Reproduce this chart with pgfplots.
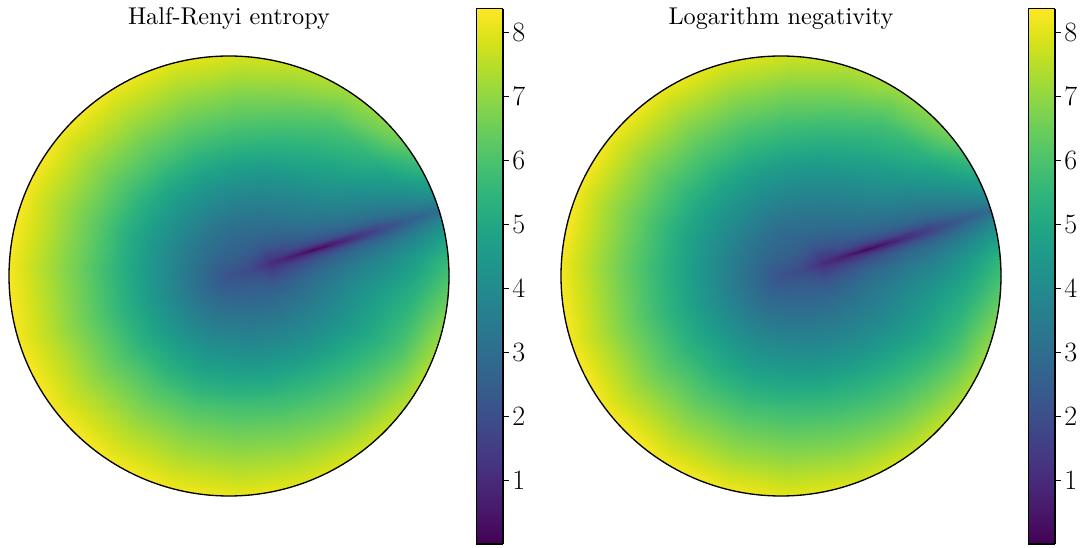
\documentclass[border=0pt]{standalone}
\usepackage{pgfplots}
\usepackage{pgfplotstable}
\pgfplotsset{compat=1.18}
% values: angle (deg), radius, value
\pgfplotstableread[row sep=\\]{
t r z\\
17.4 0 2.1\\ 17.4 .1 1.9\\ 17.4 .2 1.1\\ 17.4 .3 .6\\ 17.4 .4 .1\\ 17.4 .5 .6\\ 17.4 .6 1.2\\ 17.4 .7 1.7\\ 17.4 .85 2.5\\ 17.4 1.02 3.1\\
18.4 0 2.1\\ 18.4 .1 1.9\\ 18.4 .2 1.1\\ 18.4 .3 .8\\ 18.4 .4 .7\\ 18.4 .5 1.0\\ 18.4 .6 1.45\\ 18.4 .7 1.95\\ 18.4 .85 2.7\\ 18.4 1.02 3.35\\
20.4 0 2.1\\ 20.4 .1 1.9\\ 20.4 .2 1.2\\ 20.4 .3 1.25\\ 20.4 .4 1.5\\ 20.4 .5 1.9\\ 20.4 .6 2.3\\ 20.4 .7 2.6\\ 20.4 .85 3.2\\ 20.4 1.02 3.95\\
23.4 0 2.1\\ 23.4 .1 1.95\\ 23.4 .2 1.35\\ 23.4 .3 1.7\\ 23.4 .4 2.15\\ 23.4 .5 2.55\\ 23.4 .6 2.9\\ 23.4 .7 3.15\\ 23.4 .85 3.7\\ 23.4 1.02 4.6\\
29.4 0 2.1\\ 29.4 .1 2.05\\ 29.4 .2 1.7\\ 29.4 .3 2.2\\ 29.4 .4 2.75\\ 29.4 .5 3.15\\ 29.4 .6 3.55\\ 29.4 .7 3.85\\ 29.4 .85 4.5\\ 29.4 1.02 5.6\\
39.4 0 2.1\\ 39.4 .1 2.2\\ 39.4 .2 2.2\\ 39.4 .3 2.7\\ 39.4 .4 3.25\\ 39.4 .5 3.7\\ 39.4 .6 4.2\\ 39.4 .7 4.65\\ 39.4 .85 5.45\\ 39.4 1.02 6.8\\
57.4 0 2.1\\ 57.4 .1 2.4\\ 57.4 .2 2.7\\ 57.4 .3 3.15\\ 57.4 .4 3.65\\ 57.4 .5 4.2\\ 57.4 .6 4.85\\ 57.4 .7 5.4\\ 57.4 .85 6.2\\ 57.4 1.02 7.3\\
72 0 2.1\\ 72 .1 2.55\\ 72 .2 2.85\\ 72 .3 3.35\\ 72 .4 3.9\\ 72 .5 4.5\\ 72 .6 5.2\\ 72 .7 5.8\\ 72 .85 6.7\\ 72 1.02 7.7\\
87.4 0 2.1\\ 87.4 .1 2.65\\ 87.4 .2 2.95\\ 87.4 .3 3.5\\ 87.4 .4 4.1\\ 87.4 .5 4.75\\ 87.4 .6 5.5\\ 87.4 .7 6.1\\ 87.4 .85 6.95\\ 87.4 1.02 7.95\\
105 0 2.1\\ 105 .1 2.7\\ 105 .2 3.1\\ 105 .3 3.7\\ 105 .4 4.3\\ 105 .5 4.95\\ 105 .6 5.7\\ 105 .7 6.3\\ 105 .85 7.15\\ 105 1.02 8.1\\
122.4 0 2.1\\ 122.4 .1 2.75\\ 122.4 .2 3.25\\ 122.4 .3 3.85\\ 122.4 .4 4.45\\ 122.4 .5 5.1\\ 122.4 .6 5.85\\ 122.4 .7 6.45\\ 122.4 .85 7.3\\ 122.4 1.02 8.25\\
140 0 2.1\\ 140 .1 2.75\\ 140 .2 3.35\\ 140 .3 3.95\\ 140 .4 4.55\\ 140 .5 5.2\\ 140 .6 5.9\\ 140 .7 6.5\\ 140 .85 7.35\\ 140 1.02 8.3\\
157.4 0 2.1\\ 157.4 .1 2.75\\ 157.4 .2 3.4\\ 157.4 .3 4.0\\ 157.4 .4 4.6\\ 157.4 .5 5.25\\ 157.4 .6 5.95\\ 157.4 .7 6.55\\ 157.4 .85 7.4\\ 157.4 1.02 8.33\\
177 0 2.1\\ 177 .1 2.75\\ 177 .2 3.4\\ 177 .3 4.05\\ 177 .4 4.7\\ 177 .5 5.35\\ 177 .6 6.0\\ 177 .7 6.6\\ 177 .85 7.45\\ 177 1.02 8.35\\
197.4 0 2.1\\ 197.4 .1 2.75\\ 197.4 .2 3.4\\ 197.4 .3 4.05\\ 197.4 .4 4.7\\ 197.4 .5 5.35\\ 197.4 .6 6.0\\ 197.4 .7 6.6\\ 197.4 .85 7.45\\ 197.4 1.02 8.35\\
217 0 2.1\\ 217 .1 2.75\\ 217 .2 3.4\\ 217 .3 4.05\\ 217 .4 4.7\\ 217 .5 5.35\\ 217 .6 6.0\\ 217 .7 6.6\\ 217 .85 7.45\\ 217 1.02 8.35\\
237.4 0 2.1\\ 237.4 .1 2.75\\ 237.4 .2 3.4\\ 237.4 .3 4.0\\ 237.4 .4 4.65\\ 237.4 .5 5.3\\ 237.4 .6 6.0\\ 237.4 .7 6.6\\ 237.4 .85 7.45\\ 237.4 1.02 8.35\\
255 0 2.1\\ 255 .1 2.75\\ 255 .2 3.35\\ 255 .3 3.95\\ 255 .4 4.55\\ 255 .5 5.2\\ 255 .6 5.95\\ 255 .7 6.55\\ 255 .85 7.35\\ 255 1.02 8.3\\
272.4 0 2.1\\ 272.4 .1 2.75\\ 272.4 .2 3.3\\ 272.4 .3 3.9\\ 272.4 .4 4.5\\ 272.4 .5 5.15\\ 272.4 .6 5.9\\ 272.4 .7 6.45\\ 272.4 .85 7.25\\ 272.4 1.02 8.2\\
290 0 2.1\\ 290 .1 2.7\\ 290 .2 3.2\\ 290 .3 3.75\\ 290 .4 4.3\\ 290 .5 4.95\\ 290 .6 5.7\\ 290 .7 6.3\\ 290 .85 7.1\\ 290 1.02 8.1\\
307.4 0 2.1\\ 307.4 .1 2.65\\ 307.4 .2 3.05\\ 307.4 .3 3.55\\ 307.4 .4 4.1\\ 307.4 .5 4.7\\ 307.4 .6 5.4\\ 307.4 .7 6.0\\ 307.4 .85 6.85\\ 307.4 1.02 7.95\\
322 0 2.1\\ 322 .1 2.55\\ 322 .2 2.9\\ 322 .3 3.35\\ 322 .4 3.85\\ 322 .5 4.4\\ 322 .6 5.05\\ 322 .7 5.65\\ 322 .85 6.55\\ 322 1.02 7.75\\
337.4 0 2.1\\ 337.4 .1 2.4\\ 337.4 .2 2.7\\ 337.4 .3 3.15\\ 337.4 .4 3.6\\ 337.4 .5 4.05\\ 337.4 .6 4.6\\ 337.4 .7 5.1\\ 337.4 .85 6.0\\ 337.4 1.02 7.45\\
355.4 0 2.1\\ 355.4 .1 2.2\\ 355.4 .2 2.2\\ 355.4 .3 2.7\\ 355.4 .4 3.25\\ 355.4 .5 3.7\\ 355.4 .6 4.2\\ 355.4 .7 4.6\\ 355.4 .85 5.3\\ 355.4 1.02 6.5\\
365.4 0 2.1\\ 365.4 .1 2.05\\ 365.4 .2 1.7\\ 365.4 .3 2.2\\ 365.4 .4 2.75\\ 365.4 .5 3.15\\ 365.4 .6 3.6\\ 365.4 .7 3.9\\ 365.4 .85 4.6\\ 365.4 1.02 5.6\\
371.4 0 2.1\\ 371.4 .1 1.95\\ 371.4 .2 1.35\\ 371.4 .3 1.7\\ 371.4 .4 2.15\\ 371.4 .5 2.55\\ 371.4 .6 2.95\\ 371.4 .7 3.25\\ 371.4 .85 3.8\\ 371.4 1.02 4.7\\
374.4 0 2.1\\ 374.4 .1 1.9\\ 374.4 .2 1.2\\ 374.4 .3 1.25\\ 374.4 .4 1.5\\ 374.4 .5 1.9\\ 374.4 .6 2.3\\ 374.4 .7 2.6\\ 374.4 .85 3.2\\ 374.4 1.02 4.0\\
376.4 0 2.1\\ 376.4 .1 1.9\\ 376.4 .2 1.1\\ 376.4 .3 .8\\ 376.4 .4 .7\\ 376.4 .5 1.0\\ 376.4 .6 1.45\\ 376.4 .7 1.95\\ 376.4 .85 2.7\\ 376.4 1.02 3.35\\
377.4 0 2.1\\ 377.4 .1 1.9\\ 377.4 .2 1.1\\ 377.4 .3 .6\\ 377.4 .4 .1\\ 377.4 .5 .6\\ 377.4 .6 1.2\\ 377.4 .7 1.7\\ 377.4 .85 2.5\\ 377.4 1.02 3.1\\
}\renyi
\pgfplotstableread[row sep=\\]{
t r z\\
17.4 0 2.1\\ 17.4 .1 1.9\\ 17.4 .2 1.1\\ 17.4 .3 .6\\ 17.4 .4 .08\\ 17.4 .5 .55\\ 17.4 .6 1.1\\ 17.4 .7 1.6\\ 17.4 .85 2.35\\ 17.4 1.02 3.0\\
18.4 0 2.1\\ 18.4 .1 1.9\\ 18.4 .2 1.1\\ 18.4 .3 .8\\ 18.4 .4 .65\\ 18.4 .5 .95\\ 18.4 .6 1.35\\ 18.4 .7 1.8\\ 18.4 .85 2.55\\ 18.4 1.02 3.3\\
20.4 0 2.1\\ 20.4 .1 1.9\\ 20.4 .2 1.2\\ 20.4 .3 1.2\\ 20.4 .4 1.4\\ 20.4 .5 1.75\\ 20.4 .6 2.1\\ 20.4 .7 2.4\\ 20.4 .85 3.05\\ 20.4 1.02 3.85\\
23.4 0 2.1\\ 23.4 .1 1.95\\ 23.4 .2 1.35\\ 23.4 .3 1.65\\ 23.4 .4 2.0\\ 23.4 .5 2.4\\ 23.4 .6 2.7\\ 23.4 .7 2.95\\ 23.4 .85 3.55\\ 23.4 1.02 4.45\\
29.4 0 2.1\\ 29.4 .1 2.05\\ 29.4 .2 1.65\\ 29.4 .3 2.15\\ 29.4 .4 2.65\\ 29.4 .5 3.0\\ 29.4 .6 3.35\\ 29.4 .7 3.65\\ 29.4 .85 4.35\\ 29.4 1.02 5.45\\
39.4 0 2.1\\ 39.4 .1 2.2\\ 39.4 .2 2.15\\ 39.4 .3 2.65\\ 39.4 .4 3.15\\ 39.4 .5 3.55\\ 39.4 .6 4.0\\ 39.4 .7 4.45\\ 39.4 .85 5.3\\ 39.4 1.02 6.7\\
57.4 0 2.1\\ 57.4 .1 2.4\\ 57.4 .2 2.65\\ 57.4 .3 3.1\\ 57.4 .4 3.55\\ 57.4 .5 4.05\\ 57.4 .6 4.65\\ 57.4 .7 5.2\\ 57.4 .85 6.05\\ 57.4 1.02 7.2\\
72 0 2.1\\ 72 .1 2.55\\ 72 .2 2.8\\ 72 .3 3.3\\ 72 .4 3.8\\ 72 .5 4.35\\ 72 .6 5.0\\ 72 .7 5.6\\ 72 .85 6.55\\ 72 1.02 7.55\\
87.4 0 2.1\\ 87.4 .1 2.65\\ 87.4 .2 2.9\\ 87.4 .3 3.45\\ 87.4 .4 4.0\\ 87.4 .5 4.6\\ 87.4 .6 5.3\\ 87.4 .7 5.9\\ 87.4 .85 6.8\\ 87.4 1.02 7.85\\
105 0 2.1\\ 105 .1 2.7\\ 105 .2 3.05\\ 105 .3 3.65\\ 105 .4 4.2\\ 105 .5 4.8\\ 105 .6 5.5\\ 105 .7 6.1\\ 105 .85 7.0\\ 105 1.02 8.05\\
122.4 0 2.1\\ 122.4 .1 2.75\\ 122.4 .2 3.2\\ 122.4 .3 3.8\\ 122.4 .4 4.35\\ 122.4 .5 4.95\\ 122.4 .6 5.65\\ 122.4 .7 6.25\\ 122.4 .85 7.15\\ 122.4 1.02 8.2\\
140 0 2.1\\ 140 .1 2.75\\ 140 .2 3.3\\ 140 .3 3.9\\ 140 .4 4.45\\ 140 .5 5.05\\ 140 .6 5.7\\ 140 .7 6.3\\ 140 .85 7.2\\ 140 1.02 8.3\\
157.4 0 2.1\\ 157.4 .1 2.75\\ 157.4 .2 3.35\\ 157.4 .3 3.95\\ 157.4 .4 4.5\\ 157.4 .5 5.1\\ 157.4 .6 5.75\\ 157.4 .7 6.35\\ 157.4 .85 7.25\\ 157.4 1.02 8.33\\
177 0 2.1\\ 177 .1 2.75\\ 177 .2 3.35\\ 177 .3 4.0\\ 177 .4 4.6\\ 177 .5 5.2\\ 177 .6 5.8\\ 177 .7 6.4\\ 177 .85 7.3\\ 177 1.02 8.35\\
197.4 0 2.1\\ 197.4 .1 2.75\\ 197.4 .2 3.35\\ 197.4 .3 4.0\\ 197.4 .4 4.6\\ 197.4 .5 5.2\\ 197.4 .6 5.8\\ 197.4 .7 6.4\\ 197.4 .85 7.3\\ 197.4 1.02 8.35\\
217 0 2.1\\ 217 .1 2.75\\ 217 .2 3.35\\ 217 .3 4.0\\ 217 .4 4.6\\ 217 .5 5.2\\ 217 .6 5.8\\ 217 .7 6.4\\ 217 .85 7.3\\ 217 1.02 8.35\\
237.4 0 2.1\\ 237.4 .1 2.75\\ 237.4 .2 3.35\\ 237.4 .3 3.95\\ 237.4 .4 4.55\\ 237.4 .5 5.15\\ 237.4 .6 5.8\\ 237.4 .7 6.4\\ 237.4 .85 7.3\\ 237.4 1.02 8.35\\
255 0 2.1\\ 255 .1 2.75\\ 255 .2 3.3\\ 255 .3 3.9\\ 255 .4 4.45\\ 255 .5 5.05\\ 255 .6 5.75\\ 255 .7 6.35\\ 255 .85 7.2\\ 255 1.02 8.3\\
272.4 0 2.1\\ 272.4 .1 2.75\\ 272.4 .2 3.25\\ 272.4 .3 3.85\\ 272.4 .4 4.4\\ 272.4 .5 5.0\\ 272.4 .6 5.7\\ 272.4 .7 6.25\\ 272.4 .85 7.1\\ 272.4 1.02 8.15\\
290 0 2.1\\ 290 .1 2.7\\ 290 .2 3.15\\ 290 .3 3.7\\ 290 .4 4.2\\ 290 .5 4.8\\ 290 .6 5.5\\ 290 .7 6.1\\ 290 .85 6.95\\ 290 1.02 8.0\\
307.4 0 2.1\\ 307.4 .1 2.65\\ 307.4 .2 3.0\\ 307.4 .3 3.5\\ 307.4 .4 4.0\\ 307.4 .5 4.55\\ 307.4 .6 5.2\\ 307.4 .7 5.8\\ 307.4 .85 6.7\\ 307.4 1.02 7.85\\
322 0 2.1\\ 322 .1 2.55\\ 322 .2 2.85\\ 322 .3 3.3\\ 322 .4 3.75\\ 322 .5 4.25\\ 322 .6 4.85\\ 322 .7 5.45\\ 322 .85 6.4\\ 322 1.02 7.6\\
337.4 0 2.1\\ 337.4 .1 2.4\\ 337.4 .2 2.65\\ 337.4 .3 3.1\\ 337.4 .4 3.5\\ 337.4 .5 3.9\\ 337.4 .6 4.4\\ 337.4 .7 4.9\\ 337.4 .85 5.85\\ 337.4 1.02 7.3\\
355.4 0 2.1\\ 355.4 .1 2.2\\ 355.4 .2 2.15\\ 355.4 .3 2.65\\ 355.4 .4 3.15\\ 355.4 .5 3.55\\ 355.4 .6 4.0\\ 355.4 .7 4.4\\ 355.4 .85 5.15\\ 355.4 1.02 6.4\\
365.4 0 2.1\\ 365.4 .1 2.05\\ 365.4 .2 1.65\\ 365.4 .3 2.15\\ 365.4 .4 2.65\\ 365.4 .5 3.0\\ 365.4 .6 3.4\\ 365.4 .7 3.7\\ 365.4 .85 4.45\\ 365.4 1.02 5.5\\
371.4 0 2.1\\ 371.4 .1 1.95\\ 371.4 .2 1.35\\ 371.4 .3 1.65\\ 371.4 .4 2.0\\ 371.4 .5 2.4\\ 371.4 .6 2.75\\ 371.4 .7 3.05\\ 371.4 .85 3.65\\ 371.4 1.02 4.6\\
374.4 0 2.1\\ 374.4 .1 1.9\\ 374.4 .2 1.2\\ 374.4 .3 1.2\\ 374.4 .4 1.4\\ 374.4 .5 1.75\\ 374.4 .6 2.1\\ 374.4 .7 2.4\\ 374.4 .85 3.05\\ 374.4 1.02 3.9\\
376.4 0 2.1\\ 376.4 .1 1.9\\ 376.4 .2 1.1\\ 376.4 .3 .8\\ 376.4 .4 .65\\ 376.4 .5 .95\\ 376.4 .6 1.35\\ 376.4 .7 1.8\\ 376.4 .85 2.55\\ 376.4 1.02 3.3\\
377.4 0 2.1\\ 377.4 .1 1.9\\ 377.4 .2 1.1\\ 377.4 .3 .6\\ 377.4 .4 .08\\ 377.4 .5 .55\\ 377.4 .6 1.1\\ 377.4 .7 1.6\\ 377.4 .85 2.35\\ 377.4 1.02 3.0\\
}\lognegativity

\pgfplotsset{
  disc/.style={
    scale only axis, width=330pt, height=330pt,
    anchor=south west,
    xmin=-1, xmax=1, ymin=-1, ymax=1,
    view={0}{90},
    hide axis, clip=false,
    colormap/viridis,
    point meta min=0, point meta max=8.375,
    title style={at={(0.5,1)}, anchor=base, yshift=17.5pt, scale=1.82},
  },
  bar/.style={
    scale only axis, width=20pt, height=401.6pt,
    anchor=south west,
    xmin=0, xmax=1, ymin=0, ymax=8.375,
    view={0}{90},
    colormap/viridis,
    point meta min=0, point meta max=8.375,
    axis on top,
    xtick=\empty, ztick=\empty, ytick={1,...,8},
    ytick pos=right, yticklabel pos=right,
    tick align=outside, major tick length=4.5pt,
    tick style={black, line width=.75pt},
    /pgf/number format/assume math mode=true,
    yticklabel style={font=\fontsize{21}{24}\selectfont, xshift=-1pt},
    axis line style={line width=.9pt},
  },
}
\begin{document}
\begin{tikzpicture}
\path[use as bounding box] (0,0) rectangle (812.25pt,410.25pt);
\begin{axis}[disc, at={(6.75pt,38.25pt)}, title={Half-Renyi entropy}]
\clip (axis cs:0,0,0) circle [radius=165pt];
\addplot3[surf, shader=interp, mesh/rows=29, mesh/cols=10]
    table[x expr=\thisrow{r}*cos(\thisrow{t}), y expr=\thisrow{r}*sin(\thisrow{t}), z=z, meta=z] {\renyi};
\end{axis}
\draw[line width=1pt] (171.75pt,203.25pt) circle [radius=165pt];
\begin{axis}[bar, at={(357.2pt,2.25pt)}]
\addplot3[surf, shader=interp, mesh/cols=2, mesh/rows=2]
    table[meta=z] {
x y z
0 0 0
1 0 0
0 8.375 8.375
1 8.375 8.375
};
\end{axis}
\begin{axis}[disc, at={(420.75pt,38.25pt)}, title={Logarithm negativity}]
\clip (axis cs:0,0,0) circle [radius=165pt];
\addplot3[surf, shader=interp, mesh/rows=29, mesh/cols=10]
    table[x expr=\thisrow{r}*cos(\thisrow{t}), y expr=\thisrow{r}*sin(\thisrow{t}), z=z, meta=z] {\lognegativity};
\end{axis}
\draw[line width=1pt] (585.75pt,203.25pt) circle [radius=165pt];
\begin{axis}[bar, at={(771.2pt,2.25pt)}]
\addplot3[surf, shader=interp, mesh/cols=2, mesh/rows=2]
    table[meta=z] {
x y z
0 0 0
1 0 0
0 8.375 8.375
1 8.375 8.375
};
\end{axis}
\end{tikzpicture}
\end{document}
